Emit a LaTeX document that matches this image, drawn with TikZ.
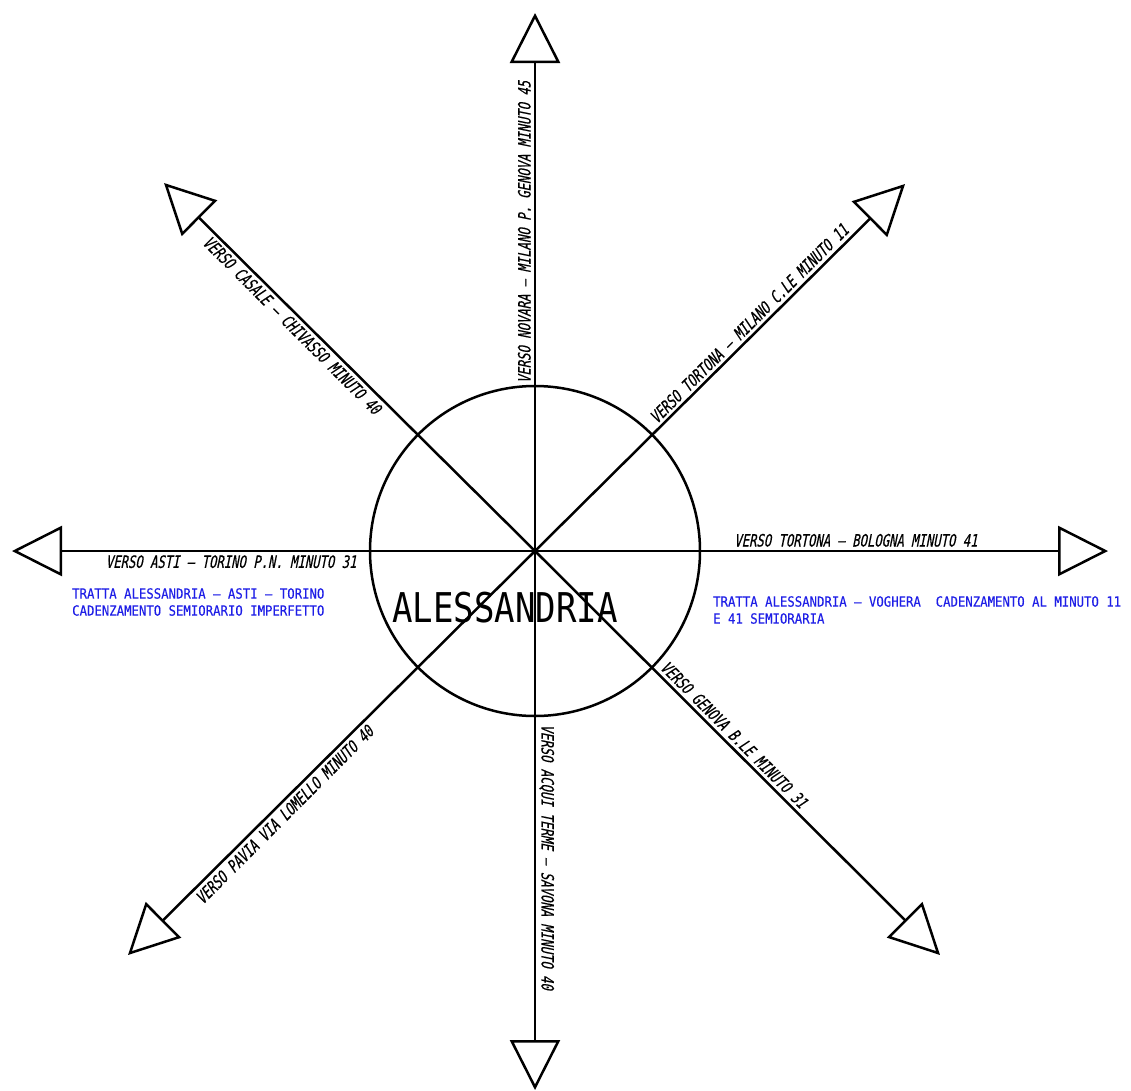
\documentclass[tikz,border=0pt]{standalone}
\usepackage{fontspec}
\usepackage{xcolor}
\usetikzlibrary{arrows.meta}
\newfontfamily\labelfont[FakeStretch=0.72,FakeSlant=0.2,FakeBold=0.4]{DejaVu Sans Mono}
\newfontfamily\notefont[FakeStretch=0.88,FakeBold=0.3]{DejaVu Sans Mono}
\newfontfamily\cityfont[FakeStretch=0.83]{DejaVu Sans Mono}
\definecolor{noteblue}{RGB}{30,30,230}

\begin{document}
\begin{tikzpicture}[
    x=1pt, y=-1pt,
    route/.style={-{Triangle[open, length=50pt, width=50pt]}, line width=2.5pt, line join=miter},
    lbl/.style={font=\labelfont\fontsize{17}{17}\selectfont, inner sep=3pt},
    note/.style={font=\notefont\fontsize{14}{17}\selectfont, text=noteblue, align=left, inner sep=0pt, anchor=north west},
    city/.style={font=\cityfont\fontsize{41}{41}\selectfont, inner sep=0pt}
]
\useasboundingbox (0,0) rectangle (1131,1090);
\coordinate (centre) at (535,551);
\coordinate (novara) at (535,13);
\coordinate (acqui) at (535,1090);
\coordinate (asti) at (12,551);
\coordinate (bologna) at (1108,551);
\coordinate (casale) at (164,183);
\coordinate (milano) at (905,184);
\coordinate (pavia) at (128,955);
\coordinate (genova) at (940,955);

\node[draw, circle, line width=2.5pt, minimum size=330pt, inner sep=0pt] (station) at (centre) {};

\draw[route] (centre) -- (novara) node[lbl, pos=0.593, rotate=90, anchor=south] {VERSO NOVARA – MILANO P. GENOVA MINUTO 45};
\draw[route] (centre) -- (acqui) node[lbl, pos=0.568, rotate=-90, anchor=south] {VERSO ACQUI TERME – SAVONA MINUTO 40};
\draw[route] (centre) -- (asti) node[lbl, pos=0.581, anchor=north] {VERSO ASTI – TORINO P.N. MINUTO 31};
\draw[route] (centre) -- (bologna) node[lbl, pos=0.56, anchor=south] {VERSO TORTONA – BOLOGNA MINUTO 41};
\draw[route] (centre) -- (casale) node[lbl, pos=0.634, rotate=-45, anchor=north] {VERSO CASALE – CHIVASSO MINUTO 40};
\draw[route] (centre) -- (milano) node[lbl, pos=0.599, rotate=45, anchor=south] {VERSO TORTONA – MILANO C.LE MINUTO 11};
\draw[route] (centre) -- (pavia) node[lbl, pos=0.634, rotate=45, anchor=north] {VERSO PAVIA VIA LOMELLO MINUTO 40};
\draw[route] (centre) -- (genova) node[lbl, pos=0.473, rotate=-45, anchor=south] {VERSO GENOVA B.LE MINUTO 31};

\node[city] (name) at (505,608) {ALESSANDRIA};
\node[note] (westnote) at (72,588) {TRATTA ALESSANDRIA – ASTI – TORINO\\CADENZAMENTO SEMIORARIO IMPERFETTO};
\node[note] (eastnote) at (713,596) {TRATTA ALESSANDRIA – VOGHERA\ \ CADENZAMENTO AL MINUTO 11\\E 41 SEMIORARIA};
\end{tikzpicture}
\end{document}
